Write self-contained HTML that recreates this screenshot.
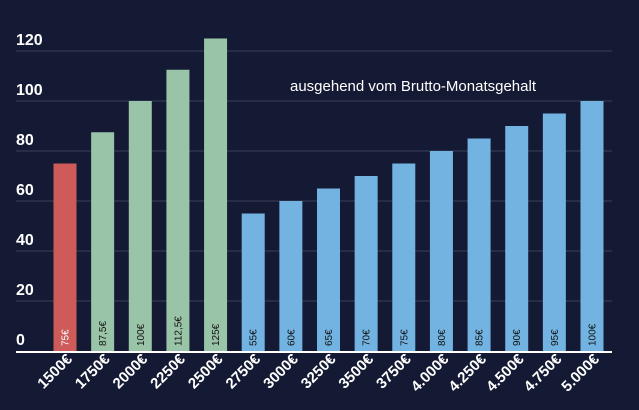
<!DOCTYPE html>
<html><head><meta charset="utf-8"><style>
body{margin:0;background:#151a34;}
svg{display:block;font-family:"Liberation Sans",sans-serif;}
</style></head><body>
<svg id="c" width="639" height="410">
<rect width="639" height="410" fill="#151a34"/>
<text x="290" y="91" fill="#fff" font-size="15">ausgehend vom Brutto-Monatsgehalt</text>
</svg>
<script>
const categories=["1500€","1750€","2000€","2250€","2500€","2750€","3000€","3250€","3500€","3750€","4.000€","4.250€","4.500€","4.750€","5.000€"];
const values=[75,87.5,100,112.5,125,55,60,65,70,75,80,85,90,95,100];
const valueLabels=["75€","87,5€","100€","112,5€","125€","55€","60€","65€","70€","75€","80€","85€","90€","95€","100€"];
const groups=["red","green","green","green","green","blue","blue","blue","blue","blue","blue","blue","blue","blue","blue"];
const yTicks=[0,20,40,60,80,100,120];
const svg=document.getElementById('c');
const NS='http://www.w3.org/2000/svg';
const colors={red:"#cd5b5a",green:"#9ac4a8",blue:"#72b3e1"};
const y=v=>351-v*2.5;
const xc=i=>65+i*(527/14);
function mk(t,a){const e=document.createElementNS(NS,t);for(const k in a)e.setAttribute(k,a[k]);svg.appendChild(e);return e;}
yTicks.forEach(t=>{
  if(t>0){const l=mk('line',{x1:16,x2:612,y1:y(t),y2:y(t),stroke:'#3a4058','stroke-width':1});
  
  }
  const tx=mk('text',{x:16,y:y(t)-6,fill:'#fff','font-size':16,'font-weight':'bold'});
  tx.textContent=t;
  
  
});
values.forEach((v,i)=>{
  const b=mk('rect',{x:xc(i)-11.5,y:y(v),width:23,height:351-y(v),fill:colors[groups[i]]});
  
  
  const vl=mk('text',{x:0,y:0,fill:i===0?'#fff':'#111','font-size':10,transform:`translate(${xc(i)+3.5},346) rotate(-90)`});
  vl.textContent=valueLabels[i];
  
  
  const cl=mk('text',{x:0,y:0,fill:'#fff','font-size':15,'font-weight':'bold','text-anchor':'end',transform:`translate(${xc(i)+8},360) rotate(-45)`});
  cl.textContent=categories[i];
  
  
});
const ax=mk('line',{x1:16,x2:612,y1:352,y2:352,stroke:'#fff','stroke-width':2});


</script>
</body></html>
